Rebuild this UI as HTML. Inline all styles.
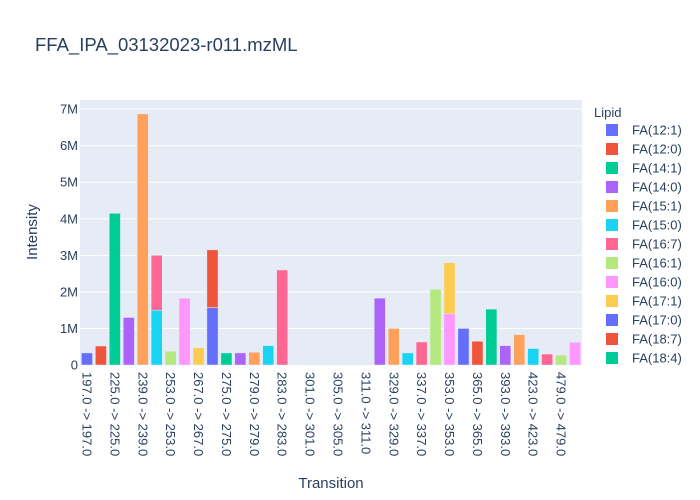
<!DOCTYPE html>
<html><head><meta charset="utf-8">
<style>
body{margin:0;background:#fff;}
svg{display:block;font-family:"Liberation Sans","DejaVu Sans",sans-serif;}
</style></head>
<body>
<svg id="chart" width="700" height="500" viewBox="0 0 700 500" xmlns="http://www.w3.org/2000/svg">
<rect width="700" height="500" fill="#fff"/>
<text x="35" y="51" font-size="18.5" fill="#2a3f5f">FFA_IPA_03132023-r011.mzML</text>
<rect x="80" y="100" width="502" height="265" fill="#E5ECF6"/>
<g id="grid"></g>
<g id="bars"></g>
<g id="yticks"></g>
<g id="xticks"></g>
<text x="37" y="232" font-size="15" fill="#2a3f5f" text-anchor="middle" transform="rotate(-90 37 232)">Intensity</text>
<text x="331" y="488" font-size="15" fill="#2a3f5f" text-anchor="middle">Transition</text>
<g id="legend">
<text x="594" y="117" font-size="13" fill="#2a3f5f">Lipid</text>
</g>
</svg>
<script>
const categories = ["197.0 -> 197.0","211.0 -> 211.0","225.0 -> 225.0","227.0 -> 227.0","239.0 -> 239.0","241.0 -> 241.0","253.0 -> 253.0","255.0 -> 255.0","267.0 -> 267.0","269.0 -> 269.0","275.0 -> 275.0","277.0 -> 277.0","279.0 -> 279.0","281.0 -> 281.0","283.0 -> 283.0","295.0 -> 295.0","301.0 -> 301.0","303.0 -> 303.0","305.0 -> 305.0","309.0 -> 309.0","311.0 -> 311.0","327.0 -> 327.0","329.0 -> 329.0","331.0 -> 331.0","337.0 -> 337.0","339.0 -> 339.0","353.0 -> 353.0","355.0 -> 355.0","365.0 -> 365.0","367.0 -> 367.0","393.0 -> 393.0","395.0 -> 395.0","423.0 -> 423.0","425.0 -> 425.0","479.0 -> 479.0","481.0 -> 481.0"];
const traceNames = ["FA(12:1)","FA(12:0)","FA(14:1)","FA(14:0)","FA(15:1)","FA(15:0)","FA(16:7)","FA(16:1)","FA(16:0)","FA(17:1)","FA(17:0)","FA(18:7)","FA(18:4)","FA(18:3)","FA(18:2)","FA(18:1)","FA(18:0)","FA(19:1)","FA(19:0)","FA(20:5)","FA(20:4)","FA(20:3)","FA(20:2)","FA(20:1)","FA(20:0)","FA(21:0)","FA(22:6)","FA(22:5)","FA(22:4)","FA(22:1)","FA(22:0)","FA(23:0)","FA(24:1)","FA(24:0)","FA(25:0)","FA(26:1)","FA(26:0)","FA(28:0)","FA(30:0)"];
const traceCategory = [0,1,2,3,4,5,5,6,7,8,9,9,10,11,12,13,14,15,16,17,18,19,20,21,22,23,24,25,26,26,27,28,29,30,31,32,33,34,35];
const traceValues = [0.33,0.52,4.15,1.3,6.87,1.5,1.5,0.38,1.83,0.47,1.57,1.58,0.33,0.33,0.35,0.53,2.6,0.01,0.01,0.01,0.01,0.01,0.01,1.83,1.0,0.33,0.63,2.07,1.4,1.4,1.0,0.65,1.53,0.53,0.83,0.45,0.3,0.27,0.62];
const yTicks = [0,1,2,3,4,5,6,7];
const yTickLabels = ["0","1M","2M","3M","4M","5M","6M","7M"];
const colors = ["#636EFA","#EF553B","#00CC96","#AB63FA","#FFA15A","#19D3F3","#FF6692","#B6E880","#FF97FF","#FECB52"];

const NS="http://www.w3.org/2000/svg";
const X0=80,X1=582,Y0=365,Y1=100,YMAX=7.25;
const band=(X1-X0)/categories.length;
const xc=i=>X0+band*(i+0.5);
const ys=v=>Y0-(v/YMAX)*(Y0-Y1);
function mk(tag,attrs,parent){const e=document.createElementNS(NS,tag);for(const k in attrs)e.setAttribute(k,attrs[k]);parent.appendChild(e);return e;}
const grid=document.getElementById('grid'),bars=document.getElementById('bars'),yt=document.getElementById('yticks'),xt=document.getElementById('xticks'),lg=document.getElementById('legend');
yTicks.forEach((t,i)=>{
  if(t>0){const l=mk('line',{x1:X0,x2:X1,y1:ys(t),y2:ys(t),stroke:'#fff','stroke-width':1},grid);
  
  }
  const tx=mk('text',{x:X0-2,y:ys(t)+4.5,'font-size':13,fill:'#2a3f5f','text-anchor':'end'},yt);
  tx.textContent=yTickLabels[i];
  
  
});
const stack=new Array(categories.length).fill(0);
traceValues.forEach((v,i)=>{
  const c=traceCategory[i];const base=stack[c];stack[c]+=v;
  const w=band*0.8;
  const r=mk('rect',{x:xc(c)-w/2,y:ys(base+v),width:w,height:ys(base)-ys(base+v),fill:colors[i%10],stroke:'#E5ECF6','stroke-width':0.5},bars);
  
  
});
categories.forEach((c,i)=>{
  if(i%2) return;
  const x=xc(i)-4.5,y=372;
  const tx=mk('text',{x:x,y:y,'font-size':13,fill:'#2a3f5f',transform:`rotate(90 ${x} ${y})`},xt);
  tx.textContent=c;
  
  
});
traceNames.slice(0,13).forEach((n,i)=>{
  const y=130+i*19;
  const g=mk('g',{},lg);
  
  
  mk('rect',{x:606,y:y-6,width:12,height:12,fill:colors[i%10]},g);
  const t=mk('text',{x:632,y:y+4.5,'font-size':13,fill:'#2a3f5f'},g);
  t.textContent=n;
});
</script>
</body></html>
